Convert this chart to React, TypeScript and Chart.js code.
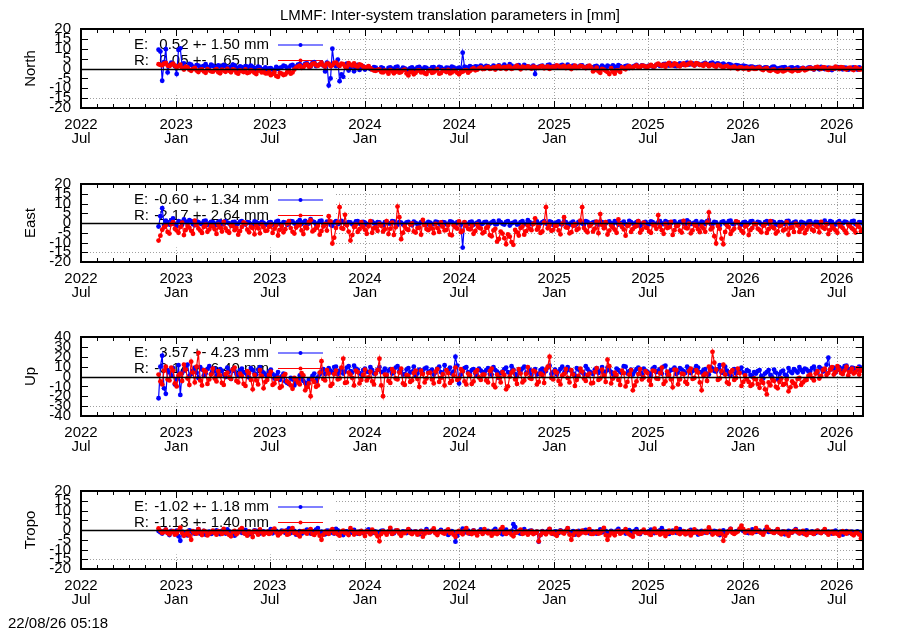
import React, { useEffect, useRef } from "react";
import { Chart, registerables } from "chart.js";

Chart.register(...registerables);

const FONT = "'Liberation Sans', Arial, Helvetica, sans-serif";
const TITLE = "LMMF: Inter-system translation parameters in [mm]";
const STAMP = "22/08/26 05:18";

// x axis: days after 2022-07-01; samples every 3.5 days (two interleaved weekly sets)
const START_DAY = 150;
const STEP_DAYS = 7;
const HALF_STEP = 3.5;
const X_MIN = 0;
const X_MAX = 1512;
const xTickDays = [0, 184, 365, 549, 731, 915, 1096, 1280, 1461];
const xTickYears = ["2022", "2023", "2023", "2024", "2024", "2025", "2025", "2026", "2026"];
const xTickMonths = ["Jul", "Jan", "Jul", "Jan", "Jul", "Jan", "Jul", "Jan", "Jul"];

const panelNames = ["North", "East", "Up", "Tropo"];
const panelLimits = [20, 20, 40, 20];
const panelSteps = [5, 5, 10, 5];
const panelTops = [29, 184, 337, 491];
const panelHeights = [79, 78, 79, 78];
const legendE = ["0.52 +- 1.50 mm", "-0.60 +- 1.34 mm", "3.57 +- 4.23 mm", "-1.02 +- 1.18 mm"];
const legendR = ["0.05 +- 1.65 mm", "-2.17 +- 2.64 mm", "-0.14 +- 6.40 mm", "-1.13 +- 1.40 mm"];

// ---- North ----
const northE = [
  9.5, -6.2, 9.8, 1.8, 2.4, -2.8, 10.2, 2.6, 0.8, 1.9, 0.4, 1.5, 0.9, 2.2, 0.6,
  1.4, 0.3, 1.1, 1.8, 0.2, 0.9, 1.6, -0.4, 0.7, 1.2, 0.1, 0.8, -0.6, 0.5, -0.3,
  -1.0, 0.2, -0.8, -0.2, 0.6, 1.1, 0.4, 1.8, 0.9, 2.2, 1.4, 2.6, 1.0, 3.2, 1.6,
  2.8, -1.5, -8.6, 10.0, 1.2, -6.4, -4.2, 2.4, 0.6, -1.4, 1.8, 0.3, -0.5, 0.9, -0.2,
  0.4, -0.8, 0.2, -1.2, 0.5, -0.3, 0.9, -0.6, 0.1, -1.0, 0.6, -0.2, 0.8, -0.5, 0.3,
  -0.4, 0.7, -0.1, 0.5, -0.6, 0.3, 0.9, -0.2, 0.4, 8.0, 0.6, 1.2, 0.2, 0.9, 1.5,
  0.5, 1.1, 0.3, 0.8, 1.6, 0.4, 1.0, 2.2, 0.7, 1.3, 0.6, 1.8, 1.0, 0.4, -2.8,
  0.8, 1.4, 0.5, 1.9, 1.1, 0.6, 1.5, 0.9, 2.0, 0.4, 1.2, 0.7, 1.6, 0.3, 1.0,
  0.5, 1.3, -0.2, 0.8, 1.4, 0.3, 0.9, 1.7, 0.6, 1.2, 0.2, 1.0, 1.8, 0.7, 1.3,
  0.9, 1.6, 1.1, 2.0, 1.4, 2.3, 1.5, 2.1, 1.2, 2.6, 1.8, 2.9, 2.2, 1.6, 2.4,
  1.9, 2.8, 2.1, 3.0, 2.3, 1.7, 2.5, 1.4, 2.0, 1.1, 1.6, 0.8, 1.2, 0.5, 0.9,
  0.3, 0.8, -0.2, 0.6, 0.1, 0.9, -0.4, 0.4, 0.7, -0.3, 0.5, 0.2, -0.6, 0.3, -0.1,
  0.6, -0.5, 0.2, 0.8, -0.3, 0.4, -0.8, 0.1, 0.5, -0.4, 0.3, -0.2, 0.6, -0.5, 0.2,
];
const northE2 = [
  8.6, 3.2, -2.0, 2.9, 1.1, 9.4, 1.4, 0.5, 2.3, 1.0, 1.7, 0.2, 1.3, 0.7, 1.9,
  0.8, 1.6, 0.0, 1.3, 0.6, 1.9, 0.4, 1.1, -0.2, 0.9, 1.4, 0.3, 1.0, -0.4, 0.6,
  0.1, -0.6, 0.8, 0.3, 1.4, 0.2, 1.5, 0.7, 2.0, 1.1, 2.4, 1.7, 2.8, 1.2, 2.1,
  1.5, 3.0, -5.0, 2.2, 4.5, -3.0, 1.6, -1.0, 1.2, 0.2, -0.7, 1.1, 0.5, -0.3, 0.7,
  -0.5, 0.6, -0.9, 0.3, -0.1, 0.7, -0.8, 0.4, -0.4, 0.2, -0.7, 0.5, -0.1, 0.6, -0.6,
  0.5, -0.3, 0.8, -0.2, 0.4, -0.5, 0.6, 0.1, -0.3, 0.9, 0.3, 0.7, 1.1, 0.4, 0.8,
  1.3, 0.6, 1.5, 0.2, 1.0, 1.9, 0.5, 1.4, 0.9, 1.7, 0.3, 1.2, 0.8, 1.5, 0.6,
  1.2, 0.4, 1.7, 0.8, 1.3, 0.5, 1.8, 1.1, 0.6, 1.5, 0.9, 1.4, 0.5, 1.2, 0.7,
  1.1, 0.6, 1.5, 0.2, 1.0, 1.6, 0.5, 1.2, 0.8, 1.5, 0.6, 1.3, 0.9, 1.6, 1.0,
  1.4, 1.0, 1.8, 1.3, 2.2, 1.7, 2.4, 1.3, 1.9, 2.1, 2.4, 2.0, 2.6, 2.2, 1.8,
  2.4, 2.0, 2.7, 1.9, 2.6, 2.1, 1.8, 2.2, 1.5, 1.7, 1.2, 1.4, 0.9, 1.0, 0.6,
  0.7, 0.2, 0.5, 0.0, 0.8, 0.3, 0.2, 0.6, -0.1, 0.4, -0.4, 0.6, 0.1, -0.3, 0.4,
  0.1, 0.4, -0.4, 0.6, 0.2, -0.5, 0.3, 0.7, -0.2, 0.4, -0.6, 0.3, 0.0, 0.5, -0.3,
];
const northR = [
  2.2, 1.6, 2.8, 1.2, 2.5, 0.8, 1.9, -0.5, 0.6, -1.2, 0.3, -1.8, -0.4, -2.2, -0.9,
  -1.6, -0.3, -2.4, -1.1, -0.2, -1.9, -0.7, -2.6, -1.3, -0.5, -2.0, -1.4, -2.8, -0.9, -1.7,
  -2.5, -3.4, -1.8, -4.2, -2.6, -3.0, -1.2, -2.0, 0.4, 1.5, 0.6, 2.1, 1.2, 2.6, 1.4,
  2.8, 1.0, 2.4, 1.6, 3.0, 1.3, 2.2, 0.8, 1.9, 2.6, 0.9, 1.7, 0.4, 1.2, -0.6,
  -1.2, -0.4, -2.0, -1.5, -0.8, -2.4, -1.1, -1.8, -0.6, -3.5, -1.4, -2.2, -0.9, -1.6, -2.8,
  -1.0, -1.9, -0.5, -2.3, -1.2, -0.7, -2.0, -1.4, -2.9, -1.6, -0.8, -1.3, 0.2, -0.6, 0.5,
  -0.2, 0.8, 0.1, -0.5, 1.2, 0.4, -0.3, 0.9, 0.2, 1.4, -0.4, 0.6, 1.1, -0.1, 0.7,
  0.3, 1.2, 0.5, -0.2, 1.0, 1.6, 0.4, 1.3, 0.8, -0.3, 1.5, 0.6, 1.1, 0.2, 1.4,
  -1.5, 0.4, -2.2, -0.6, -1.8, 0.2, -2.6, -1.0, 0.5, -0.4, 1.2, 0.3, 1.6, 0.8, 1.3,
  0.6, 1.8, 1.0, 2.4, 1.4, 0.9, 2.8, 1.6, 2.2, 1.1, 2.6, 1.9, 3.0, 1.5, 2.3,
  1.8, 2.5, 1.2, 2.0, 0.9, 1.6, 0.6, 1.3, 0.2, 0.9, -0.3, 0.5, 0.1, -0.6, 0.4,
  -0.2, 0.6, -0.8, 0.3, -1.2, -0.4, -1.6, -0.7, -1.1, -0.3, -1.4, -0.6, -1.0, 0.2, -0.5,
  0.3, -0.4, 0.8, -0.2, 0.5, -0.7, 0.2, 0.9, -0.3, 0.6, -0.5, 0.4, -0.8, 0.1, -0.4,
];
const northR2 = [
  1.8, 2.4, 1.5, 2.0, 1.4, 1.1, 0.3, 0.9, -0.6, -0.2, -1.0, -0.7, -1.5, -0.3, -1.4,
  -0.8, -1.9, -0.6, -1.7, -1.2, -0.4, -2.1, -1.0, -1.8, -2.3, -0.8, -2.2, -1.1, -2.0, -2.4,
  -1.9, -2.7, -3.8, -2.2, -3.3, -1.9, -2.6, -0.5, 1.0, 0.3, 1.8, 0.9, 2.3, 1.7, 2.0,
  1.6, 2.5, 1.2, 2.8, 2.0, 2.4, 1.0, 2.7, 1.5, 1.3, 2.1, 1.0, 0.7, 0.2, -1.0,
  -0.7, -1.8, -1.0, -2.6, -1.3, -1.7, -2.1, -0.9, -2.5, -1.8, -2.9, -1.1, -2.0, -2.4, -1.3,
  -2.2, -1.1, -2.6, -1.0, -1.8, -2.5, -1.1, -2.2, -1.9, -1.0, -2.1, -0.5, -0.9, 0.1, -0.3,
  0.4, -0.2, 0.6, 0.9, -0.1, 0.7, 1.0, -0.2, 0.8, 0.5, 0.9, 0.2, 0.4, 0.9, 0.3,
  0.9, 0.1, 1.1, 0.7, 0.4, 1.1, 0.9, 0.2, 1.2, 0.6, 0.3, 1.3, 0.4, 0.9, 0.5,
  -0.8, -1.4, -0.2, -1.2, -2.8, -1.6, -0.9, -1.8, 0.0, 0.8, 0.4, 1.1, 0.6, 1.4, 0.9,
  1.3, 1.1, 2.0, 1.8, 1.9, 2.2, 1.5, 2.6, 1.3, 2.0, 1.6, 2.4, 2.0, 2.7, 1.8,
  1.4, 2.1, 1.7, 1.3, 1.8, 1.0, 1.1, 0.7, 0.6, 0.3, 0.6, -0.1, 0.4, 0.0, -0.2,
  0.3, -0.4, -0.1, -0.9, -0.6, -1.2, -1.0, -1.5, -0.6, -1.0, -0.8, -1.2, -0.4, -0.9, 0.0,
  -0.1, 0.5, 0.1, 0.6, -0.4, 0.3, -0.2, 0.4, 0.7, -0.2, 0.2, -0.4, 0.5, -0.6, 0.2,
];

// ---- East ----
const eastE = [
  -1.8, 7.6, 1.2, -0.8, 2.4, -1.5, 0.6, 1.8, -0.4, 1.0, -1.2, 0.5, -0.6, 1.2, -0.2,
  0.4, -1.0, 0.8, -0.5, 0.2, -1.4, 0.6, -0.3, 1.0, -0.8, 0.3, -1.1, 0.5, -0.4, 0.1,
  -0.9, 0.4, -0.6, 1.1, -1.3, 0.2, -0.5, 0.8, -1.0, 1.5, 0.3, -0.7, 2.0, 0.4, -0.3,
  1.2, -0.6, 0.5, -1.4, 0.9, -0.2, 0.6, -0.9, 0.3, -0.5, 1.0, -0.8, 0.2, -0.4, 0.7,
  -0.6, 0.3, -1.1, 0.5, -0.3, 0.8, -0.9, 0.2, -0.5, 0.6, -1.2, 0.1, -0.4, 0.7, -0.8,
  0.2, -0.6, 0.4, -1.0, 0.3, -0.5, 0.6, -0.8, 0.1, -12.6, -0.4, 0.5, -0.9, 0.2, -0.6,
  0.4, -1.1, 0.3, -0.7, 1.2, -0.4, 0.6, -1.3, 0.2, -0.8, 0.5, -0.3, 1.4, -0.6, 0.3,
  -0.9, 0.5, -0.2, 0.8, -1.0, 0.3, -0.6, 0.9, -0.4, 0.2, -1.2, 0.6, -0.3, 1.0, -0.7,
  0.3, -0.5, 0.7, -1.1, 0.4, -0.2, 0.9, -0.8, 0.1, -0.6, 1.1, -0.3, 0.5, -1.4, 0.2,
  -0.4, 0.8, -0.9, 0.3, -0.2, 1.0, -0.7, 0.4, -1.0, 0.6, -0.3, 1.3, -0.5, 0.2, -0.8,
  0.7, -0.4, 1.5, -0.6, 0.3, -1.1, 0.8, -0.2, 1.2, -0.7, 0.4, -0.9, 0.6, -0.3, 1.0,
  -0.5, 0.3, -0.8, 0.9, -0.2, 0.5, -1.0, 0.4, -0.6, 1.1, -0.3, 0.7, -0.9, 0.2, -0.4,
  0.8, -0.6, 0.4, -1.0, 1.2, -0.3, 0.6, -0.8, 0.9, -0.2, 0.5, -0.7, 1.1, -0.4, 0.3,
];
const eastE2 = [
  3.5, -1.0, 0.4, 1.5, -0.5, 0.9, -0.9, 0.7, 1.4, -0.6, 0.8, -0.3, 0.9, -0.9, 0.6,
  -0.3, 0.6, -0.7, 0.9, -0.2, 0.4, -0.9, 0.7, -0.4, 0.5, -0.6, 0.8, -0.2, 0.6, -0.7,
  0.3, -0.8, 0.7, -0.4, 0.5, -0.9, 1.0, -0.2, 0.6, -0.5, 1.1, -0.3, 0.8, -0.6, 0.9,
  -0.4, 0.7, -0.9, 0.3, -0.6, 1.1, -0.4, 0.5, -0.7, 0.8, -0.3, 0.6, -0.8, 0.4, -0.2,
  0.5, -0.7, 0.4, -0.2, 0.9, -0.5, 0.6, -0.8, 0.3, -0.4, 0.7, -0.6, 0.5, -0.3, 0.6,
  -0.5, 0.7, -0.3, 0.5, -0.7, 0.8, -0.2, 0.4, -0.9, 0.3, -0.6, 0.7, -0.3, 0.8, -0.4,
  0.6, -0.3, 0.9, -0.5, 0.4, -0.8, 0.9, -0.2, 0.7, -0.5, 1.0, -0.6, 0.5, -0.2, 0.8,
  -0.3, 0.9, -0.6, 0.4, -0.2, 0.8, -0.7, 0.5, -0.9, 0.7, -0.4, 0.3, -0.8, 0.6, -0.2,
  0.6, -0.8, 0.4, -0.3, 0.8, -0.6, 0.3, -0.2, 0.7, -0.9, 0.5, -0.4, 0.9, -0.5, 0.6,
  -0.7, 0.4, -0.3, 0.9, -0.6, 0.5, -0.2, 0.8, -0.5, 0.7, -0.8, 0.6, -0.3, 0.9, -0.4,
  0.3, 0.9, -0.5, 0.6, -0.8, 0.4, -0.3, 1.0, -0.4, 0.7, -0.6, 0.3, -0.2, 0.8, -0.5,
  0.6, -0.7, 0.4, -0.3, 0.8, -0.6, 0.5, -0.2, 0.9, -0.5, 0.3, -0.7, 0.6, -0.3, 0.7,
  -0.4, 0.6, -0.8, 0.5, -0.2, 0.9, -0.6, 0.3, -0.5, 0.7, -0.3, 0.8, -0.6, 0.4, -0.2,
];
const eastR = [
  -9.0, -3.5, -1.2, -5.4, 0.5, -3.8, -2.1, -6.2, -1.5, -4.0, 1.2, -2.8, -5.1, -0.9, -3.3,
  -1.8, -5.6, -2.4, 0.6, -4.2, -1.1, -3.7, -6.0, -2.0, -0.4, -4.8, -2.6, -1.3, -5.3, -2.2,
  -3.9, -0.8, -2.9, -6.4, -1.6, -3.2, 0.9, -4.5, -2.3, -1.0, -5.7, -2.7, 1.4, -3.6, -1.4,
  -4.1, -0.6, 3.5, -10.5, -2.5, 8.1, -3.0, -1.2, -9.0, -2.1, -4.6, 0.4, -3.4, -1.7, -5.0,
  -2.3, -0.5, -4.4, 1.0, -2.9, -6.1, 8.4, -8.3, -1.8, -3.6, -0.2, -4.9, -2.4, 1.6, -3.1,
  -1.4, -5.2, -2.6, 0.3, -3.8, -1.0, -6.3, -2.2, 0.8, -4.0, -1.6, -3.3, -5.5, -0.7, -2.8,
  -4.6, -1.9, -6.8, -3.0, -8.2, -5.4, -10.9, -7.0, -11.2, -4.8, -2.5, -6.0, -1.2, -3.7, 2.4,
  -2.0, -4.3, 8.1, -0.9, -3.5, -1.3, -5.8, 3.0, -2.4, -4.7, -0.6, -2.9, 8.1, -3.8, -1.5,
  -4.4, 0.7, 4.6, -2.7, -5.9, -1.1, -3.4, 1.8, -2.0, -6.5, -0.8, -3.1, -1.6, -4.9, 0.2,
  -2.6, -5.0, -1.3, 4.0, -3.7, -0.5, -2.2, -6.1, -1.7, -3.9, 1.1, -2.8, -5.3, -0.9, -3.2,
  -1.6, -4.5, 5.5, -2.4, -10.5, -3.0, -10.9, -1.2, -5.6, -2.9, 0.5, -4.0, -1.8, -6.2, -2.5,
  -0.6, -3.6, -1.4, -5.1, 0.9, -2.7, -4.3, -1.0, -3.3, -6.0, -2.1, -0.3, -4.6, -1.9, -3.5,
  -0.8, -4.1, -2.0, 0.6, -3.0, -5.7, -1.5, -3.8, -0.4, -2.6, -5.2, -1.7, -3.4, -0.9, -4.4,
];
const eastR2 = [
  -6.5, -2.2, -4.6, -0.6, -3.0, -5.0, 0.2, -3.6, -2.4, -5.5, -1.0, -3.9, -2.0, -4.5, -1.6,
  -3.2, -0.9, -4.4, -2.8, -5.0, -1.6, -2.5, -4.1, 0.3, -3.4, -1.9, -5.8, -2.7, -0.8, -4.0,
  -2.0, -5.1, -1.2, -3.5, -4.8, -0.4, -2.6, -5.4, -1.3, -3.8, -2.1, 0.5, -4.3, -2.5, -6.0,
  -1.8, -3.9, 0.8, -7.5, 0.3, -2.6, 4.2, -4.4, -6.2, -0.9, -3.2, -2.0, -5.5, 0.9, -2.7,
  -4.0, -1.4, -3.2, -5.7, 0.2, -2.2, 3.0, -5.0, -3.1, -0.8, -4.3, -2.6, -6.0, -1.1, -3.7,
  -2.8, -0.4, -4.6, -1.9, -3.5, -6.0, -1.2, -2.9, -4.7, 0.5, -3.0, -1.5, -4.1, -2.3, -5.3,
  -2.5, -6.2, -3.8, -9.5, -4.4, -7.8, -5.9, -9.8, -3.6, -6.4, -1.8, -4.2, -2.9, -0.5, -3.4,
  -5.1, 0.2, -2.7, -4.0, -1.6, -3.8, -0.3, -2.2, -5.3, -1.4, -3.6, 1.2, -2.5, -4.8, -0.7,
  -2.9, -5.2, -1.0, 0.4, -3.9, -2.3, -5.0, -0.6, -3.3, -1.5, -4.6, -2.0, 0.9, -3.5, -2.2,
  -4.3, -0.8, -3.0, -1.9, -5.5, -2.6, 0.6, -3.7, -1.2, -4.9, -2.4, -0.3, -3.8, -1.6, -4.7,
  -2.8, 0.3, -3.3, -6.8, -1.5, -8.0, -4.6, -2.1, -3.9, 0.8, -2.6, -5.0, -1.1, -3.6, -0.4,
  -2.9, -4.8, -0.7, -3.2, -2.0, -5.4, -1.6, -3.9, 0.4, -2.5, -4.6, -1.3, -3.0, -5.2, -1.9,
  -3.4, -1.2, -4.8, -2.3, -0.6, -3.6, -2.8, -5.0, -1.8, -3.9, -0.9, -2.7, -4.9, -2.1, -3.3,
];

// ---- Up ----
const upE = [
  -22.0, 21.0, -17.5, 4.0, 8.5, -3.0, -18.7, 6.0, 12.0, 2.5, 9.0, -1.5, 7.0, 3.0, 10.5,
  4.5, 0.5, 7.5, 2.0, 9.0, -2.5, 5.5, 1.0, 8.0, 3.5, -1.0, 6.5, 2.0, 9.5, 4.0,
  1.5, 7.0, -2.0, 4.5, 0.0, -5.0, -7.5, -3.0, -6.0, 1.0, -4.5, -8.0, -2.5, 3.0, -1.0,
  5.0, 2.5, 8.5, 4.0, 10.0, 6.0, 3.0, 9.0, 5.5, 11.0, 7.0, 2.0, 8.0, 4.5, 6.5,
  3.5, 9.5, 5.0, 1.5, 7.5, 4.0, 10.5, 6.0, 2.5, 8.5, 5.0, 0.5, 7.0, 3.5, 9.0,
  5.5, 2.0, 8.0, 4.5, 11.5, 6.5, 3.0, 20.0, -7.0, 5.0, 9.5, 3.5, 7.5, 1.0, 6.0,
  4.0, 8.5, 2.0, 6.5, -1.5, 5.0, 9.0, 3.0, 7.0, 0.5, 5.5, 10.0, 4.0, 1.5, 7.5,
  3.0, 8.0, 5.5, 11.0, 4.5, 2.0, 7.5, 3.5, 9.5, 6.0, 1.0, 7.0, 4.0, 10.5, 5.0,
  2.5, 8.5, 6.0, 3.0, 9.0, 4.5, 0.5, 6.5, 3.5, 10.0, 5.5, 2.0, 7.5, 4.0, 8.0,
  5.0, 1.5, 9.5, 6.0, 3.0, 11.0, 4.5, 7.0, 2.5, 8.5, 5.5, 10.0, 3.5, 6.5, 9.0,
  4.0, 7.5, 2.0, 8.0, 5.0, 11.5, 3.5, 6.0, 1.0, 7.5, 4.5, 9.0, 2.5, 5.5, 0.0,
  3.0, 6.5, -2.0, 4.5, 1.5, 7.0, -3.0, 5.0, 2.0, 8.5, 3.5, 6.0, 9.5, 4.5, 7.0,
  5.5, 10.0, 3.5, 8.0, 6.0, 19.0, 7.5, 4.0, 9.5, 6.5, 11.0, 5.0, 8.5, 7.0, 9.0,
];
const upE2 = [
  10.0, -12.0, 6.5, 1.0, -8.0, 11.5, 3.5, 8.0, 0.5, 6.0, 4.0, 9.5, 1.0, 7.5, 2.5,
  8.0, 3.0, 6.0, -0.5, 5.0, 7.5, 2.5, 6.5, 4.5, 1.5, 8.5, 3.0, 7.0, 5.0, 2.0,
  5.0, 2.5, 1.0, -3.5, 3.0, -6.5, -1.5, -9.0, -4.0, -2.0, -6.5, -3.5, 0.5, -5.0, 2.0,
  7.5, 3.5, 6.0, 9.5, 2.5, 7.5, 5.0, 10.5, 4.0, 8.0, 3.5, 6.5, 5.0, 9.5, 3.0,
  7.0, 4.5, 8.0, 6.0, 3.0, 9.0, 5.5, 2.0, 7.0, 4.0, 10.0, 3.0, 6.0, 8.0, 4.5,
  7.0, 4.0, 10.0, 2.5, 6.0, 9.0, 5.0, 11.0, 2.0, 8.5, 4.5, 6.5, 3.0, 8.0, 4.5,
  6.5, 2.5, 9.5, 5.0, 3.5, 7.5, 4.5, 10.5, 2.5, 6.0, 8.0, 3.5, 7.0, 5.5, 2.0,
  6.5, 4.0, 9.0, 2.5, 7.0, 5.0, 10.0, 4.5, 6.5, 3.0, 8.5, 5.5, 2.5, 7.5, 4.0,
  7.0, 3.5, 9.5, 5.0, 6.5, 2.5, 8.0, 4.5, 10.5, 3.0, 7.0, 5.0, 9.0, 2.5, 6.0,
  3.5, 8.0, 4.5, 7.5, 10.0, 2.5, 6.5, 9.0, 4.0, 7.0, 3.5, 8.0, 5.5, 10.5, 4.5,
  6.5, 3.0, 9.5, 5.5, 7.5, 4.0, 10.0, 2.5, 5.5, 3.0, 7.0, 4.0, 6.5, 1.5, 4.5,
  5.5, 0.5, 3.0, 6.5, -1.0, 4.0, 2.5, 6.0, 0.5, 5.0, 7.5, 4.0, 6.5, 8.0, 5.0,
  8.5, 6.0, 9.5, 5.0, 12.0, 7.0, 9.0, 6.5, 8.0, 10.5, 7.5, 9.0, 6.0, 10.0, 8.0,
];
const upR = [
  2.0, -8.0, 10.0, -4.0, 6.0, -10.0, 3.0, 12.0, -2.0, 15.0, -6.0, 24.0, -9.0, 5.0, -3.0,
  8.0, -5.0, 1.0, -8.5, 4.0, -2.5, 9.0, -6.0, 0.5, -9.5, 3.5, -13.0, -4.0, 6.5, -12.0,
  -3.5, 5.0, -7.0, -1.5, -10.0, 2.5, -6.5, -12.5, -3.0, -8.0, 1.0, -11.0, -20.0, -5.5, -9.0,
  15.5, -4.0, 3.0, -7.5, 6.0, -2.0, 18.0, -6.0, 2.0, -9.0, 4.5, -3.5, 7.0, -1.0, -5.0,
  3.0, 18.0, -20.0, 1.5, -6.5, 5.0, -3.0, 8.0, -8.5, 0.5, -4.0, 6.0, -10.5, 2.5, -2.0,
  4.0, -7.0, 7.5, -1.5, -9.0, 3.5, -4.5, 9.0, -2.0, 5.5, -8.0, 1.0, -5.0, 6.5, -3.5,
  2.0, -6.0, 8.0, -11.0, -1.0, 4.5, -13.0, 0.0, 6.0, -7.5, 3.0, -4.0, 9.5, -2.5, 5.0,
  -5.5, 1.5, 7.0, 20.0, -3.0, 4.0, -8.0, 2.5, -1.5, 6.5, -9.5, 0.5, 5.0, -4.5, 3.0,
  -6.5, 8.5, -2.0, 1.0, 17.0, -7.0, 4.0, -3.5, 6.0, -10.0, 2.0, -14.0, -5.0, 7.5, -1.0,
  3.5, -8.5, 5.5, -2.5, 9.0, -5.0, 1.5, -11.0, 6.5, -3.0, 2.5, -7.5, 8.0, -1.5, 4.0,
  -14.0, 3.0, 10.0, 25.0, 7.0, -2.0, 12.0, -6.0, 4.5, -3.5, 8.0, -9.5, 1.0, -5.5, -8.0,
  -3.0, -11.5, -6.5, -18.0, -9.0, -4.5, -12.0, -2.0, -7.5, -15.0, -5.0, -10.0, -1.5, -6.0, -3.5,
  2.0, -4.0, 5.5, 0.5, 8.0, 3.5, 9.5, 4.5, 7.0, 2.5, 10.0, 5.0, 3.0, 8.5, 6.0,
];
const upR2 = [
  -5.0, 6.0, -3.0, 9.0, -7.0, 1.0, -4.5, 7.0, -8.5, 4.0, 10.0, -4.0, 6.5, -7.5, 2.0,
  -2.0, 5.5, -6.5, 2.5, -1.0, 7.0, -4.5, 3.0, -7.5, 5.5, -3.5, 1.5, -8.0, 0.5, -5.5,
  1.5, -8.5, -2.5, -11.5, 0.5, -5.0, -9.0, -1.5, -6.0, 3.5, -14.0, -7.0, -3.0, -10.5, 4.0,
  -2.5, 6.5, -9.5, 2.5, -3.0, 9.0, -6.5, 4.0, -1.5, 6.0, -7.0, 1.5, -4.0, 5.0, -8.0,
  6.5, -9.0, 2.0, -4.5, 7.5, -2.0, 4.0, -7.0, 1.5, -5.5, 3.5, -2.5, 6.0, -6.0, 3.5,
  -3.0, 5.0, -5.5, 2.5, 6.5, -6.5, 1.0, -3.5, 7.5, -5.0, 3.0, -7.5, 4.5, -1.0, 2.0,
  -4.0, 5.5, -8.5, 2.0, -6.0, 1.5, -10.0, 4.0, -3.0, 7.5, -6.0, 2.5, -1.5, 6.0, -8.0,
  3.0, -6.5, 10.0, -1.5, 5.5, -4.5, 1.0, 7.5, -6.0, 2.0, -3.5, 8.0, -2.0, 1.5, -7.0,
  4.5, -3.5, 7.0, -5.5, 10.5, -2.0, 1.5, -8.5, 3.5, -5.5, 6.5, -9.0, 2.5, -3.0, 5.5,
  -4.0, 6.0, -2.0, 3.5, -7.5, 5.0, -3.0, 7.0, -8.0, 3.0, -5.5, 5.5, -2.5, 6.5, -6.0,
  1.0, -4.5, 6.0, 14.0, -3.5, 5.5, 2.0, -7.5, 6.5, -1.5, 3.5, -5.5, -3.0, -9.5, -2.0,
  -7.5, -4.0, -13.0, -6.0, -2.5, -10.5, -5.5, -8.5, -3.0, -11.0, -7.0, -2.5, -8.5, -4.0, 0.5,
  -1.5, 3.0, -2.0, 6.5, 1.5, 7.0, 2.0, 10.5, 3.5, 6.0, 1.0, 8.0, 4.5, 2.0, 7.5,
];

// ---- Tropo ----
const tropoE = [
  -0.5, -1.8, 0.2, -2.6, -1.0, -0.3, -5.5, -1.5, -2.8, -0.6, -1.9, 0.4, -1.2, -2.4, -0.8,
  -1.6, -0.2, -2.1, -1.0, 0.3, -1.7, -2.9, -0.9, -1.4, 0.1, -2.2, -1.1, -0.4, -1.8, -0.7,
  -1.3, 0.5, -0.9, -2.0, -0.3, -1.5, 0.8, -1.1, -2.4, -0.6, -1.2, 0.2, -1.8, -0.8, 1.0,
  -0.9, -2.2, -0.4, -1.4, 0.6, -1.0, -2.6, -0.7, -1.5, 0.0, -1.9, -0.6, -1.2, 0.3, -1.6,
  -0.8, -2.0, -0.3, -1.3, 0.4, -1.7, -0.5, -2.3, -1.0, 0.2, -1.4, -0.7, -2.1, -0.9, 0.5,
  -1.2, -0.4, -1.8, 0.1, -1.0, -2.5, -0.6, -6.0, -1.3, 0.7, -0.9, -1.9, -0.2, -1.5, 0.3,
  -1.1, -0.5, -1.7, 0.6, -0.8, -2.2, 0.2, -1.4, 3.0, -0.7, -1.9, 0.4, -1.0, -0.3, -1.6,
  -6.0, -0.6, -1.3, 0.5, -2.0, -0.9, -0.2, -1.5, 0.8, -1.1, -2.4, -0.4, -1.2, 0.1, -1.7,
  -0.8, -1.9, 0.3, -1.0, -2.7, -0.5, -1.4, 0.6, -0.9, -1.8, -0.1, -1.3, 0.4, -2.1, -0.7,
  -1.2, 0.2, -1.6, -0.6, 0.9, -1.0, -2.0, -0.3, -1.4, 0.5, -0.8, -1.7, 0.0, -1.1, -2.3,
  -0.5, -1.3, 0.4, -1.8, -0.7, -2.6, -0.2, -1.0, 0.6, -1.5, -0.4, 1.2, -0.9, -1.6, 0.3,
  -1.0, -0.3, -1.9, 0.8, -0.6, -1.4, 0.2, -1.1, -2.2, -0.5, -1.3, 0.5, -0.8, -1.7, -0.2,
  -1.2, -2.0, -0.4, -1.5, 0.1, -0.9, -1.8, -0.3, -1.3, -2.4, -0.6, -1.1, -1.9, -0.7, -2.2,
];
const tropoE2 = [
  -1.2, -0.6, -1.6, -0.4, -2.0, -3.2, -0.9, -2.1, -0.2, -1.5, -0.8, -1.9, -0.5, -1.3, -2.0,
  -0.9, -1.4, -0.5, -1.8, -0.7, -1.1, -2.0, -0.3, -1.6, -0.8, -1.3, -0.2, -1.9, -1.0, -1.5,
  -0.6, -1.7, -0.4, -1.2, -0.8, -0.2, -1.6, -0.5, -1.3, -1.9, -0.4, -1.0, -0.6, 0.2, -1.4,
  -1.5, -0.3, -1.0, -1.8, -0.2, -1.3, -0.7, -1.9, -0.4, -1.1, -0.8, -1.6, -0.3, -1.2, -0.6,
  -1.4, -0.5, -1.1, -0.8, -1.9, -0.3, -1.2, -0.7, -1.6, -0.4, -1.0, -1.8, -0.5, -1.3, -0.9,
  -0.3, -1.5, -0.8, -1.2, -0.4, -1.7, -1.1, -3.0, -0.5, -1.3, -0.3, -1.0, -1.6, -0.7, -1.2,
  -0.6, -1.3, -0.3, -1.1, -1.6, -0.5, -1.2, -0.4, 1.5, -1.4, -0.6, -1.0, -0.4, -1.5, -0.8,
  -2.5, -1.4, -0.5, -1.0, -0.7, -1.6, -0.8, -0.4, -1.2, -0.6, -1.5, -0.9, -0.3, -1.1, -0.7,
  -1.4, -0.6, -1.2, -0.5, -1.5, -1.0, -0.3, -1.3, -0.6, -1.1, -0.8, -0.4, -1.4, -0.9, -1.3,
  -0.6, -1.1, -0.8, -0.2, -1.5, -0.7, -1.2, -0.9, -0.4, -1.3, -1.0, -0.6, -1.4, -0.5, -1.0,
  -1.2, -0.6, -1.1, -0.4, -1.5, -0.8, -1.3, -0.5, -1.2, -0.7, 0.2, -0.5, -1.3, -0.8, -0.6,
  -0.6, -1.5, -0.2, -1.0, -0.9, -0.6, -1.4, -0.7, -1.1, -0.9, -0.4, -1.2, -1.1, -0.6, -1.3,
  -0.7, -1.5, -1.1, -0.8, -1.3, -1.5, -0.9, -1.7, -0.8, -1.2, -1.6, -0.9, -1.4, -1.8, -1.3,
];
const tropoR = [
  0.8, -1.5, 0.2, -2.2, -0.6, -1.8, 1.2, -3.0, -0.9, -5.0, -1.4, 0.5, -2.6, -0.8, -1.9,
  -0.3, -2.4, -1.0, 0.6, -1.7, -3.2, -0.5, -1.3, 0.9, -2.0, -0.7, -3.6, -1.2, 0.3, -2.3,
  -0.9, -1.6, 0.7, -2.8, -1.1, -0.4, -2.1, 1.0, -1.5, -3.3, -0.6, -1.9, 0.4, -2.5, -1.0,
  -5.0, -0.8, -2.0, 0.5, -1.4, -2.9, -0.3, -1.7, 0.9, -2.3, -1.0, -0.5, -3.1, -1.2, 0.2,
  -1.8, -5.8, -0.6, -2.4, 1.1, -1.3, -0.2, -3.0, -1.6, 0.4, -2.1, -0.9, -1.5, -3.4, -0.4,
  -1.1, 0.8, -2.6, -0.7, -1.9, 0.3, -1.4, -3.5, -0.5, -2.2, 1.0, -1.2, -0.3, -2.8, -1.0,
  0.5, -1.7, -2.9, -0.6, -1.3, 1.4, -2.0, -0.8, -3.2, -1.1, 0.2, -1.6, -2.4, -0.4, -1.5,
  -5.8, -0.9, -2.2, 0.6, -1.4, -3.0, -0.5, -1.8, 0.9, -5.0, -1.2, -2.6, -0.3, -1.6, 0.4,
  -2.0, -0.7, -1.5, 1.1, -5.0, -1.0, -2.7, -0.4, -1.3, 0.5, -2.2, -3.4, -0.8, -1.7, 0.2,
  -1.2, -2.5, 0.7, -0.9, -1.8, -3.1, -0.3, -1.5, 1.0, -2.1, -0.6, -1.4, -2.8, 0.3, -1.0,
  -1.9, -0.4, 1.3, -2.3, -1.1, -0.5, -5.5, -1.6, 0.6, -2.0, -0.8, 2.2, -1.3, -0.2, -1.7,
  0.9, -1.0, -2.4, 1.6, -0.6, -1.5, 0.4, -2.2, -0.9, -3.0, -1.2, 0.1, -1.8, -0.5, -2.6,
  -1.1, -2.0, -0.3, -1.6, 0.5, -2.4, -0.8, -1.3, -3.0, -0.6, -1.9, -1.0, -2.7, -1.5, -4.5,
];
const tropoR2 = [
  -0.4, -0.9, -1.6, -1.0, -2.4, -0.3, -1.6, -2.2, -2.8, -0.6, -1.9, -1.1, -0.4, -2.8, -1.2,
  -1.5, -0.6, -2.0, -1.3, -2.5, -1.0, -2.2, 0.2, -1.4, -2.9, -1.6, -0.5, -2.4, -1.0, -1.6,
  -2.0, -0.2, -1.3, -1.9, -0.6, -2.4, -0.3, -1.6, -2.4, -0.9, -1.2, -0.4, -2.0, -1.4, -2.9,
  -2.4, -1.4, -0.4, -1.6, -2.2, -0.9, -1.5, -2.6, -0.4, -1.5, -2.0, -1.3, -0.6, -2.2, -1.0,
  -3.2, -2.0, -1.2, -0.8, -2.0, -0.5, -1.8, -1.2, -0.7, -1.6, -1.2, -2.4, -0.6, -1.9, -1.3,
  -0.5, -1.7, -1.2, -1.4, -0.6, -1.6, -2.4, -1.0, -1.4, -0.3, -1.7, -2.1, -1.5, -0.8, -2.0,
  -1.0, -0.8, -1.9, -2.1, 0.3, -1.5, -1.2, -2.4, -1.6, -0.4, -2.0, -0.7, -1.4, -2.1, -0.9,
  -2.6, -1.5, -0.9, -1.8, -2.2, -1.1, -1.3, -0.4, -2.3, -2.6, -0.7, -1.8, -1.2, -0.8, -2.0,
  -1.3, -1.9, -0.4, -2.6, -2.8, -1.7, -0.9, -1.9, -0.6, -1.5, -2.8, -1.1, -1.9, -0.7, -1.5,
  -1.9, -0.8, -1.4, -2.3, -0.7, -1.7, -1.1, -0.5, -1.6, -1.2, -2.2, -0.5, -1.6, -1.3, -2.0,
  -0.9, -1.4, -0.3, -1.6, -2.2, -1.9, -3.0, -0.6, -1.4, -1.3, 0.7, 0.4, -0.6, -1.5, -0.8,
  -0.4, -1.6, -0.8, 0.2, -1.1, -0.8, -1.5, -1.0, -2.0, -1.4, -0.6, -1.0, -1.2, -2.0, -1.3,
  -1.6, -0.9, -1.2, -0.7, -1.4, -1.1, -1.9, -2.0, -1.2, -1.4, -1.0, -2.1, -1.6, -2.3, -2.8,
];

const seriesE = [northE, eastE, upE, tropoE];
const seriesE2 = [northE2, eastE2, upE2, tropoE2];
const seriesR = [northR, eastR, upR, tropoR];
const seriesR2 = [northR2, eastR2, upR2, tropoR2];

const BLUE = "#0000ff";
const RED = "#ff0000";
const CANVAS_H = 140;
const PAD_TOP = 12;
const PLOT_LEFT = 81;
const PLOT_RIGHT = 863;
const KEY_RIGHT = 333;
const TXT = "15px " + FONT;

function monthStarts(): number[] {
  const out: number[] = [];
  const base = Date.UTC(2022, 6, 1);
  for (let m = 0; m < 200; m++) {
    const d = Math.round((Date.UTC(2022, 6 + m, 1) - base) / 86400000);
    if (d > X_MAX) break;
    out.push(d);
  }
  return out;
}

function toPoints(a: number[], b: number[]) {
  const pts: { x: number; y: number }[] = [];
  for (let i = 0; i < a.length; i++) {
    pts.push({ x: START_DAY + i * STEP_DAYS, y: a[i] });
    if (i < b.length) pts.push({ x: START_DAY + HALF_STEP + i * STEP_DAYS, y: b[i] });
  }
  return pts;
}

function Panel({ idx }: { idx: number }) {
  const ref = useRef<HTMLCanvasElement | null>(null);
  useEffect(() => {
    if (!ref.current) return;
    const lim = panelLimits[idx];
    const step = panelSteps[idx];
    const yTicks: number[] = [];
    for (let v = -lim; v <= lim; v += step) yTicks.push(v);
    const months = monthStarts();

    const plugin = {
      id: "gnuplotLook" + idx,
      beforeDatasetsDraw(chart: any) {
        const { ctx, chartArea: a, scales } = chart;
        const xs = scales.x;
        const ys = scales.y;
        ctx.save();
        ctx.strokeStyle = "#a0a0a0";
        ctx.lineWidth = 1;
        ctx.setLineDash([1, 2]);
        ctx.beginPath();
        yTicks.forEach((v) => {
          if (Math.abs(v) === lim) return;
          const y = Math.round(ys.getPixelForValue(v)) + 0.5;
          ctx.moveTo(a.left, y);
          ctx.lineTo(a.right, y);
        });
        xTickDays.forEach((d) => {
          if (d <= X_MIN) return;
          const x = Math.round(xs.getPixelForValue(d)) + 0.5;
          ctx.moveTo(x, a.top);
          ctx.lineTo(x, a.bottom);
        });
        ctx.stroke();
        ctx.setLineDash([]);
        // opaque key box
        ctx.fillStyle = "#ffffff";
        ctx.fillRect(a.left + 1, a.top + 1, KEY_RIGHT - a.left, (a.bottom - a.top) * 0.8);
        // key entries
        ctx.font = TXT;
        ctx.textBaseline = "middle";
        const rows = [
          { lab: "E:", txt: legendE[idx], col: BLUE, y: a.top + 16 },
          { lab: "R:", txt: legendR[idx], col: RED, y: a.top + 31.5 },
        ];
        rows.forEach((r) => {
          ctx.fillStyle = "#000";
          ctx.textAlign = "left";
          ctx.fillText(r.lab, 134, r.y);
          ctx.textAlign = "right";
          ctx.fillText(r.txt, 269, r.y);
          ctx.strokeStyle = r.col;
          ctx.lineWidth = 1.2;
          ctx.beginPath();
          ctx.moveTo(278, r.y);
          ctx.lineTo(323, r.y);
          ctx.stroke();
          ctx.fillStyle = r.col;
          ctx.beginPath();
          ctx.arc(300.5, r.y, 2, 0, Math.PI * 2);
          ctx.fill();
        });
        ctx.restore();
      },
      afterDatasetsDraw(chart: any) {
        const { ctx, chartArea: a, scales } = chart;
        const xs = scales.x;
        const ys = scales.y;
        ctx.save();
        const y0 = Math.round(ys.getPixelForValue(0)) + 0.5;
        ctx.strokeStyle = "#000";
        ctx.lineWidth = 1.4;
        ctx.beginPath();
        ctx.moveTo(a.left, y0);
        ctx.lineTo(a.right, y0);
        ctx.stroke();
        ctx.lineWidth = 1;
        ctx.beginPath();
        months.forEach((d) => {
          const x = Math.round(xs.getPixelForValue(d)) + 0.5;
          const len = xTickDays.indexOf(d) >= 0 ? 7 : 4;
          ctx.moveTo(x, a.top);
          ctx.lineTo(x, a.top + len);
          ctx.moveTo(x, a.bottom);
          ctx.lineTo(x, a.bottom - len);
        });
        yTicks.forEach((v) => {
          const y = Math.round(ys.getPixelForValue(v)) + 0.5;
          ctx.moveTo(a.left, y);
          ctx.lineTo(a.left + 7, y);
          ctx.moveTo(a.right, y);
          ctx.lineTo(a.right - 7, y);
        });
        ctx.stroke();
        ctx.lineWidth = 2;
        ctx.strokeRect(a.left, a.top, a.right - a.left, a.bottom - a.top);
        ctx.restore();
      },
      afterDraw(chart: any) {
        const { ctx, chartArea: a, scales } = chart;
        const xs = scales.x;
        const ys = scales.y;
        ctx.save();
        ctx.font = TXT;
        ctx.fillStyle = "#000";
        ctx.textBaseline = "middle";
        ctx.textAlign = "right";
        yTicks.forEach((v) => {
          ctx.fillText(String(v), 71, ys.getPixelForValue(v));
        });
        ctx.textAlign = "center";
        xTickDays.forEach((d, i) => {
          const x = xs.getPixelForValue(d);
          ctx.fillText(xTickYears[i], x, a.bottom + 17);
          ctx.fillText(xTickMonths[i], x, a.bottom + 30.5);
        });
        ctx.translate(31, (a.top + a.bottom) / 2);
        ctx.rotate(-Math.PI / 2);
        ctx.fillText(panelNames[idx], 0, 0);
        ctx.restore();
      },
    };

    const chart = new Chart(ref.current, {
      type: "line",
      data: {
        datasets: [
          {
            label: "E",
            data: toPoints(seriesE[idx], seriesE2[idx]),
            borderColor: BLUE,
            backgroundColor: BLUE,
            pointBackgroundColor: BLUE,
            borderWidth: 1.2,
            pointRadius: 2.4,
            pointBorderWidth: 0,
            tension: 0,
            order: 1,
          },
          {
            label: "R",
            data: toPoints(seriesR[idx], seriesR2[idx]),
            borderColor: RED,
            backgroundColor: RED,
            pointBackgroundColor: RED,
            borderWidth: 1.2,
            pointRadius: 2.4,
            pointBorderWidth: 0,
            tension: 0,
            order: 0,
          },
        ],
      },
      options: {
        animation: false,
        responsive: false,
        events: [],
        layout: {
          padding: {
            top: PAD_TOP,
            left: PLOT_LEFT,
            right: 900 - PLOT_RIGHT,
            bottom: CANVAS_H - PAD_TOP - panelHeights[idx],
          },
        },
        plugins: {
          legend: { display: false },
          tooltip: { enabled: false },
          title: { display: false },
        },
        scales: {
          x: { type: "linear", display: false, min: X_MIN, max: X_MAX },
          y: { type: "linear", display: false, min: -lim, max: lim },
        },
      } as any,
      plugins: [plugin],
    });
    return () => chart.destroy();
  }, [idx]);

  return (
    <canvas
      ref={ref}
      width={900}
      height={CANVAS_H}
      style={{ position: "absolute", left: 0, top: panelTops[idx] - PAD_TOP, width: 900, height: CANVAS_H }}
    />
  );
}

export default function App() {
  return (
    <div
      style={{
        position: "fixed",
        left: 0,
        top: 0,
        width: 900,
        height: 630,
        background: "#ffffff",
        overflow: "hidden",
        fontFamily: FONT,
      }}
    >
      {panelNames.map((_, i) => (
        <Panel key={i} idx={i} />
      ))}
      <div
        style={{
          position: "absolute",
          left: 0,
          top: 7,
          width: 900,
          textAlign: "center",
          fontSize: 15,
          lineHeight: "16px",
          color: "#000",
        }}
      >
        {TITLE}
      </div>
      <div
        style={{
          position: "absolute",
          left: 8,
          top: 615,
          fontSize: 15,
          lineHeight: "16px",
          color: "#000",
        }}
      >
        {STAMP}
      </div>
    </div>
  );
}
